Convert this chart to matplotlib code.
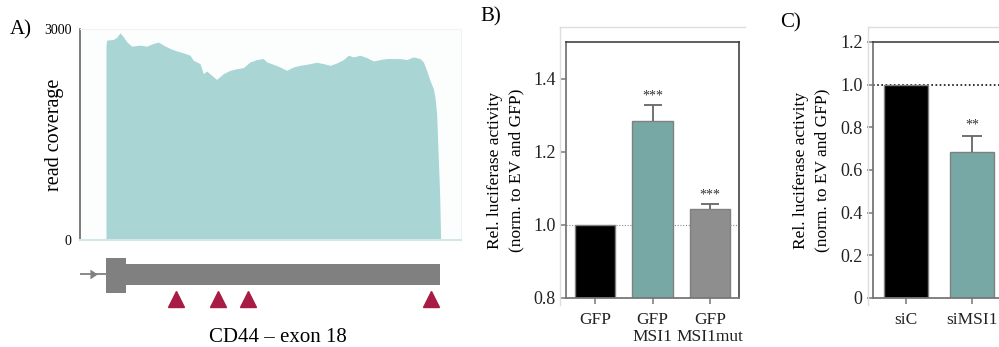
import matplotlib.pyplot as plt
from matplotlib.lines import Line2D
import numpy as np

# ---- data ----
# panel A: read coverage along CD44 exon 18 (position in nt from left of track)
cov_pos = [78, 80, 100, 110, 120, 130, 140, 155, 180, 200, 220, 235, 250, 270, 290,
           310, 330, 340, 360, 370, 380, 395, 410, 430, 450, 470, 490, 510, 530, 550,
           560, 580, 600, 620, 640, 660, 680, 710, 730, 750, 770, 790, 805, 820, 840,
           860, 880, 900, 920, 940, 960, 980, 1000, 1020, 1030, 1040, 1050, 1060, 1065,
           1070, 1073, 1076, 1079, 1082]
cov_val = [2771, 2842, 2852, 2881, 2947, 2890, 2818, 2756, 2771, 2756, 2795, 2814, 2771,
           2723, 2689, 2661, 2627, 2556, 2508, 2365, 2403, 2341, 2283, 2365, 2412, 2436,
           2451, 2532, 2565, 2580, 2532, 2498, 2460, 2412, 2460, 2484, 2498, 2527, 2508,
           2484, 2517, 2565, 2627, 2603, 2627, 2594, 2546, 2565, 2580, 2580, 2580, 2565,
           2603, 2580, 2532, 2412, 2269, 2150, 2030, 1791, 1409, 1027, 645, 0]
intron_start = 0
utr_exon = [78, 137]
cds_exon = [137, 1080]
msi_sites = [289, 414, 503, 1052]

# panel B
b_labels = ['GFP', 'GFP\nMSI1', 'GFP\nMSI1mut']
b_values = [1.0, 1.283, 1.043]
b_err = [0.0, 0.044, 0.013]
b_stars = ['', '***', '***']

# panel C
c_labels = ['siC', 'siMSI1']
c_values = [1.0, 0.684]
c_err = [0.0, 0.075]
c_stars = ['', '**']

plt.rcParams['font.family'] = ['Liberation Serif', 'DejaVu Serif']

W, H = 999, 347
fig = plt.figure(figsize=(W / 100, H / 100), dpi=100)


def px_axes(x0, y0, x1, y1):
    return fig.add_axes([x0 / W, 1 - y1 / H, (x1 - x0) / W, (y1 - y0) / H])


# ---------------- panel A ----------------
axA = px_axes(80, 29, 461, 240)
axA.fill_between(cov_pos, cov_val, 0, color='#aad5d5', lw=0)
axA.set_xlim(0, 1143)
axA.set_ylim(0, 3000)
axA.set_yticks([0, 3000])
axA.set_yticklabels(['0', '3000'], fontsize=10)
axA.set_xticks([])
axA.tick_params(axis='y', length=0, pad=6)
axA.set_facecolor('#fcfefe')
axA.spines['left'].set_color('#666666')
axA.spines['left'].set_linewidth(1.2)
axA.spines['bottom'].set_color('#d6e6e8')
axA.spines['bottom'].set_linewidth(1.5)
for s in ['top', 'right']:
    axA.spines[s].set_color('#eef3f5')
fig.text(55 / W, 1 - 135 / H, 'read coverage', fontsize=14.5, rotation=90,
         ha='center', va='center')

axG = px_axes(80, 245, 461, 312)
axG.set_xlim(0, 1143)
axG.set_ylim(0, 10)
axG.axis('off')
gene_col = '#808080'
axG.plot([intron_start, utr_exon[0]], [5.6, 5.6], color=gene_col, lw=1.3)
axG.plot([30], [5.6], marker=9, color=gene_col, ms=6)
axG.add_patch(plt.Rectangle((utr_exon[0], 2.9), utr_exon[1] - utr_exon[0], 5.2,
                            color=gene_col, lw=0))
axG.add_patch(plt.Rectangle((cds_exon[0], 4.0), cds_exon[1] - cds_exon[0], 3.1,
                            color=gene_col, lw=0))
axG.plot(msi_sites, [2.0] * len(msi_sites), ls='none', marker='^', ms=12,
         color='#a81b45', mec='#a81b45')

fig.text(278 / W, 1 - 337 / H, 'CD44 \u2013 exon 18', fontsize=15, ha='center', va='center')
fig.text(10 / W, 1 - 30 / H, 'A)', fontsize=15, ha='left', va='center')


# ---------------- bar panels ----------------
def style_bar_axis(ax):
    for s in ['top', 'right']:
        ax.spines[s].set_color('#333333')
        ax.spines[s].set_linewidth(1.1)
    for s in ['left', 'bottom']:
        ax.spines[s].set_color('#777777')
        ax.spines[s].set_linewidth(1.3)
    ax.tick_params(axis='both', direction='out', length=4, width=1.1, color='#777777',
                   labelcolor='#222222')
    ax.tick_params(axis='y', labelsize=13)
    ax.tick_params(axis='x', pad=6, labelsize=12.5)


def light_frame(x0, x1, y0, y1):
    fig.add_artist(Line2D([x0 / W, x1 / W], [1 - y0 / H, 1 - y0 / H], color='#dddddd', lw=1))
    fig.add_artist(Line2D([x0 / W, x0 / W], [1 - y0 / H, 1 - y1 / H], color='#dddddd', lw=1))


def up_errorbars(ax, x, vals, errs, cap):
    eb = ax.errorbar(x, vals, yerr=[np.zeros(len(errs)), errs], fmt='none',
                     ecolor='#666666', elinewidth=1.3, capsize=cap, capthick=1.3, zorder=3)
    eb[1][0].set_visible(False)  # hide the lower caps


# panel B
light_frame(560, 745, 27, 305)
axB = px_axes(566, 42, 739, 298)
xb = np.arange(len(b_values))
axB.axhline(1.0, color='#888888', lw=0.8, ls=(0, (1, 1.5)), zorder=1)
axB.bar(xb, b_values, width=0.7, bottom=0, color=['#000000', '#77a8a6', '#8e8e8e'],
        edgecolor='#808080', lw=1, zorder=2)
up_errorbars(axB, xb[1:], b_values[1:], b_err[1:], 6.5)
for x, v, e, s in zip(xb, b_values, b_err, b_stars):
    if s:
        axB.annotate(s, (x, v + e), xytext=(0, 2), textcoords='offset points',
                     ha='center', va='bottom', fontsize=10, color='#333333')
axB.set_xlim(-0.5, 2.5)
axB.set_ylim(0.8, 1.5)
axB.set_yticks([0.8, 1.0, 1.2, 1.4])
axB.set_yticklabels(['0.8', '1.0', '1.2', '1.4'])
axB.set_xticks(xb)
axB.set_xticklabels(b_labels, linespacing=1.1, va='top')
style_bar_axis(axB)
axB.set_ylabel('Rel. luciferase activity\n(norm. to EV and GFP)', fontsize=12.5,
               linespacing=1.45, labelpad=6)
fig.text(480 / W, 1 - 17 / H, 'B)', fontsize=15, ha='left', va='center')

# panel C
light_frame(868, 1000, 27, 305)
axC = px_axes(873, 42, 1071, 298)
xc = np.arange(len(c_values))
axC.axhline(1.0, color='#111111', lw=1.2, ls=(0, (1, 1.5)), zorder=1)
axC.bar(xc, c_values, width=0.68, color=['#000000', '#77a8a6'],
        edgecolor='#808080', lw=1, zorder=2)
up_errorbars(axC, xc[1:], c_values[1:], c_err[1:], 7)
for x, v, e, s in zip(xc, c_values, c_err, c_stars):
    if s:
        axC.annotate(s, (x, v + e), xytext=(0, 3), textcoords='offset points',
                     ha='center', va='bottom', fontsize=10, color='#333333')
axC.set_xlim(-0.5, 2.5)
axC.set_ylim(0, 1.2)
axC.set_yticks([0, 0.2, 0.4, 0.6, 0.8, 1.0, 1.2])
axC.set_yticklabels(['0', '0.2', '0.4', '0.6', '0.8', '1.0', '1.2'])
axC.set_xticks(xc)
axC.set_xticklabels(c_labels)
style_bar_axis(axC)
axC.set_ylabel('Rel. luciferase activity\n(norm. to EV and GFP)', fontsize=12.5,
               linespacing=1.45, labelpad=7)
fig.text(780 / W, 1 - 23 / H, 'C)', fontsize=15, ha='left', va='center')

fig.savefig('out.png', dpi=100)
